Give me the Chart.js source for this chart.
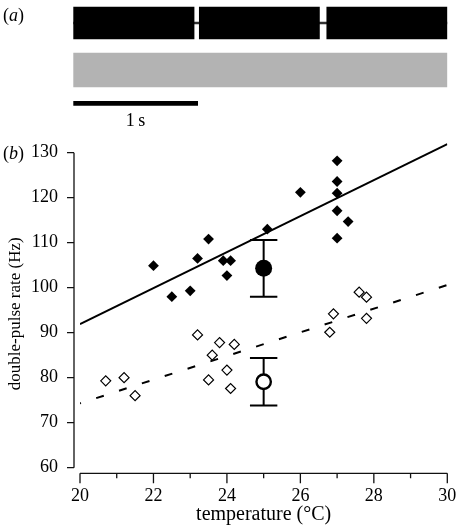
<!DOCTYPE html>
<html>
<head>
<meta charset="utf-8">
<script src="https://cdn.jsdelivr.net/npm/chart.js@4.4.1/dist/chart.umd.min.js"></script>
<style>
  html, body { margin: 0; padding: 0; background: #fff; }
  body { width: 458px; height: 530px; position: relative; overflow: hidden;
         font-family: "Liberation Serif", "Times New Roman", serif; }
  #pulseChart { position: absolute; left: 0; top: 0; }
  #rateChart { position: absolute; left: 0; top: 140px; }
  .panel { position: absolute; left: 3px; font-size: 18px; line-height: 20px; z-index: 2; }
</style>
</head>
<body>
<div class="panel" style="top:5px">(<i>a</i>)</div>
<div class="panel" style="top:143px">(<i>b</i>)</div>
<canvas id="pulseChart" width="458" height="140"></canvas>
<canvas id="rateChart" width="458" height="390"></canvas>
<script>
// (a) song pulses and stimulus, time in seconds
const pulseStart = [0, 1.013, 2.038];
const pulseEnd = [0.971, 1.979, 3.007];
const stimulus = [0, 3.007];
const scaleBar = [0, 1];

// (b) double-pulse rate vs temperature
const filledTemp = [22.0, 22.5, 23.0, 23.2, 23.5, 23.9, 24.1, 24.0, 25.1, 26.0, 27.0, 27.0, 27.0, 27.0, 27.3, 27.0];
const filledRate = [104.9, 98.0, 99.3, 106.5, 110.8, 106.0, 106.0, 102.7, 113.0, 121.2, 128.2, 123.6, 121.0, 117.1, 114.7, 111.0];
const openTemp = [20.7, 21.2, 21.5, 23.2, 23.8, 24.2, 23.6, 24.0, 23.5, 24.1, 26.9, 26.8, 27.6, 27.8, 27.8];
const openRate = [79.3, 80.0, 76.0, 89.5, 87.8, 87.4, 85.0, 81.7, 79.5, 77.6, 94.2, 90.1, 99.0, 97.9, 93.2];

// means with error bars: [filled, open]
const meanTemp = [25, 25];
const meanRate = [104.3, 79.1];
const errHigh = [110.6, 84.4];
const errLow = [98.0, 73.8];

// regression lines
const fitTemp = [20, 30];
const solidFit = [91.9, 131.9];
const dashedFit = [74.3, 100.6];

const xTicks = [20, 22, 24, 26, 28, 30];
const xMinorTicks = [21, 23, 25, 27, 29];
const yTicks = [60, 70, 80, 90, 100, 110, 120, 130];

const serif = '"Liberation Serif", "Times New Roman", serif';
Chart.defaults.font.family = serif;
Chart.defaults.color = '#000';

// ---------- panel (a) ----------
const ROW = { pulse: 2.3, stim: 7.0, scale: 10.33 };

const scaleLabel = {
    id: 'scaleLabel',
    afterDraw(chart) {
        const { ctx, scales: { x, y } } = chart;
        ctx.save();
        ctx.font = '18px ' + serif;
        ctx.fillStyle = '#000';
        ctx.textAlign = 'center';
        ctx.textBaseline = 'middle';
        ctx.fillText('1\u2009s', x.getPixelForValue((scaleBar[0] + scaleBar[1]) / 2), y.getPixelForValue(ROW.scale) + 18);
        ctx.restore();
    }
};

new Chart(document.getElementById('pulseChart'), {
    type: 'bar',
    data: {
        datasets: [{
            data: pulseStart.map((s, i) => ({ x: [s, pulseEnd[i]], y: ROW.pulse })),
            backgroundColor: '#000',
            barThickness: 32
        }, {
            data: [{ x: [pulseStart[0], pulseEnd[pulseEnd.length - 1]], y: ROW.pulse }],
            backgroundColor: '#333',
            barThickness: 2
        }, {
            data: [{ x: stimulus, y: ROW.stim }],
            backgroundColor: '#b3b3b3',
            barThickness: 34
        }, {
            data: [{ x: scaleBar, y: ROW.scale }],
            backgroundColor: '#000',
            barThickness: 4
        }]
    },
    options: {
        indexAxis: 'y',
        responsive: false,
        animation: false,
        events: [],
        layout: { padding: { left: 73.3, right: 10.7, top: 0, bottom: 0 } },
        plugins: { legend: { display: false }, tooltip: { enabled: false } },
        scales: {
            x: { type: 'linear', min: 0, max: 3.007, stacked: false, display: false },
            y: { type: 'linear', min: 0, max: 14, reverse: true, stacked: true, offset: false, display: false }
        }
    },
    plugins: [scaleLabel]
});

// ---------- panel (b) ----------
const detachedAxes = {
    id: 'detachedAxes',
    beforeDatasetsDraw(chart) {
        const { ctx, scales: { x, y } } = chart;
        ctx.save();
        ctx.strokeStyle = '#111';
        ctx.lineWidth = 1.3;
        // y axis sits a little left of 20 °C
        const ax = x.getPixelForValue(xTicks[0]) - 6;
        ctx.beginPath();
        ctx.moveTo(ax, y.getPixelForValue(yTicks[0]));
        ctx.lineTo(ax, y.getPixelForValue(yTicks[yTicks.length - 1]));
        yTicks.forEach(v => {
            const py = y.getPixelForValue(v);
            ctx.moveTo(ax, py);
            ctx.lineTo(ax - 7, py);
        });
        // x axis a little below 60 Hz
        const ay = y.getPixelForValue(yTicks[0]) + 5.6;
        ctx.moveTo(x.getPixelForValue(xTicks[0]), ay);
        ctx.lineTo(x.getPixelForValue(xTicks[xTicks.length - 1]), ay);
        xTicks.forEach(v => {
            const px = x.getPixelForValue(v);
            ctx.moveTo(px, ay);
            ctx.lineTo(px, ay + 10);
        });
        xMinorTicks.forEach(v => {
            const px = x.getPixelForValue(v);
            ctx.moveTo(px, ay);
            ctx.lineTo(px, ay + 5);
        });
        ctx.stroke();

        // error bars for the means
        ctx.strokeStyle = '#000';
        ctx.lineWidth = 2;
        ctx.beginPath();
        meanTemp.forEach((t, i) => {
            const px = x.getPixelForValue(t);
            const top = y.getPixelForValue(errHigh[i]);
            const bot = y.getPixelForValue(errLow[i]);
            ctx.moveTo(px, top);
            ctx.lineTo(px, bot);
            ctx.moveTo(px - 13.7, top);
            ctx.lineTo(px + 13.7, top);
            ctx.moveTo(px - 13.7, bot);
            ctx.lineTo(px + 13.7, bot);
        });
        ctx.stroke();
        ctx.restore();
    }
};

const toPoints = (xs, ys) => xs.map((v, i) => ({ x: v, y: ys[i] }));

new Chart(document.getElementById('rateChart'), {
    type: 'scatter',
    data: {
        datasets: [{
            label: 'mean (open)',
            data: [{ x: meanTemp[1], y: meanRate[1] }],
            pointStyle: 'circle',
            pointRadius: 7.2,
            backgroundColor: '#fff',
            borderColor: '#000',
            borderWidth: 2.4
        }, {
            label: 'mean (filled)',
            data: [{ x: meanTemp[0], y: meanRate[0] }],
            pointStyle: 'circle',
            pointRadius: 8.5,
            backgroundColor: '#000',
            borderColor: '#000',
            borderWidth: 0
        }, {
            label: 'open',
            data: toPoints(openTemp, openRate),
            pointStyle: 'rectRot',
            pointRadius: 5,
            backgroundColor: '#fff',
            borderColor: '#000',
            borderWidth: 1.2
        }, {
            label: 'filled',
            data: toPoints(filledTemp, filledRate),
            pointStyle: 'rectRot',
            pointRadius: 5.4,
            backgroundColor: '#000',
            borderColor: '#000',
            borderWidth: 0
        }, {
            label: 'dashed fit',
            data: toPoints(fitTemp, dashedFit),
            showLine: true,
            pointRadius: 0,
            borderColor: '#000',
            borderWidth: 2,
            borderDash: [8, 16],
            borderDashOffset: 7
        }, {
            label: 'solid fit',
            data: toPoints(fitTemp, solidFit),
            showLine: true,
            pointRadius: 0,
            borderColor: '#000',
            borderWidth: 2
        }]
    },
    options: {
        responsive: false,
        animation: false,
        events: [],
        layout: { autoPadding: false, padding: { left: 0, right: 10.7, top: 1.9, bottom: 0 } },
        plugins: { legend: { display: false }, tooltip: { enabled: false } },
        scales: {
            x: {
                type: 'linear',
                min: 20,
                max: 30,
                grid: { display: false, drawTicks: false },
                border: { display: false },
                ticks: { font: { size: 18 }, padding: 0 },
                title: { display: true, text: 'temperature (°C)', font: { size: 20 }, padding: { top: 0, bottom: 3 } },
                afterBuildTicks: s => { s.ticks = xTicks.map(v => ({ value: v })); },
                afterFit: s => { s.height = 44.3; s.paddingLeft = 0; s.paddingRight = 0; }
            },
            y: {
                type: 'linear',
                min: 56,
                max: 132.4,
                grid: { display: false, drawTicks: false },
                border: { display: false },
                ticks: { font: { size: 18 }, padding: 22 },
                title: { display: true, text: 'double-pulse rate (Hz)', font: { size: 17 }, padding: { top: 5, bottom: 0 } },
                afterBuildTicks: s => { s.ticks = yTicks.map(v => ({ value: v })); },
                afterFit: s => { s.width = 80; s.paddingTop = 0; s.paddingBottom = 0; }
            }
        }
    },
    plugins: [detachedAxes]
});
</script>
</body>
</html>
